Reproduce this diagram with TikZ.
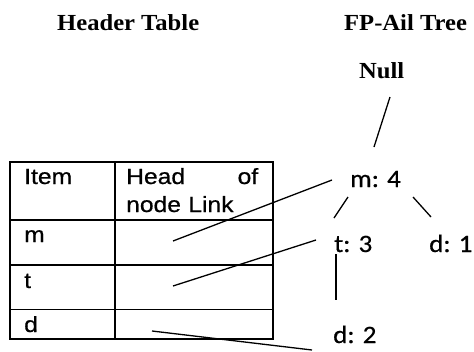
\documentclass[tikz,border=0pt]{standalone}
\usepackage{fontspec}
\setmainfont{Liberation Serif}
\newfontfamily\arialf[FakeStretch=1.12,FakeBold=0.6]{Liberation Sans}
\newfontfamily\timesf[FakeStretch=1.07]{Liberation Serif}
\newfontfamily\calf[FakeStretch=1.08,FakeBold=0.6]{Carlito}
\begin{document}
\begin{tikzpicture}[x=1pt,y=-1pt,
  title/.style={font=\timesf\bfseries\fontsize{23}{24}\selectfont, inner sep=0, anchor=base west},
  cell/.style={font=\arialf\fontsize{22}{28}\selectfont, inner sep=0, anchor=base west},
  tnode/.style={font=\calf\fontsize{25}{26}\selectfont, inner sep=0, anchor=base west},
  grid/.style={line width=1.6pt},
  thin grid/.style={line width=1pt},
  link/.style={line width=1.3pt}]
\useasboundingbox (0,0) rectangle (474,351);
% titles
\node[title] (ht) at (57,30) {Header Table};
\node[title] (fp) at (344,30) {FP-Ail Tree};
\node[title] (null) at (359,78) {Null};
% table
\draw[grid] (10,162) rectangle (273,339);
\draw[grid] (115,162) -- (115,339);
\draw[grid] (10,220) -- (273,220);
\draw[grid] (10,265) -- (273,265);
\draw[thin grid] (10,309) -- (273,309);
\node[cell] (item) at (24,184) {Item};
\node[cell, text width=132pt, align=left, anchor=base west] (head) at (126,184) {Head\hfill of\\node Link};
\node[cell] (cm) at (24,242) {m};
\node[cell] (ct) at (24,288) {t};
\node[cell] (cd) at (24,332) {d};
% tree
\node[tnode] (m4) at (350,187) {m: 4};
\node[tnode] (t3) at (334,252) {t: 3};
\node[tnode] (d1) at (429,252) {d: 1};
\node[tnode] (d2) at (333,343) {d: 2};
% connector end points
\coordinate (nullB) at (390,97);
\coordinate (m4T) at (374,147);
\coordinate (m4BL) at (348,197);
\coordinate (t3T) at (334,218);
\coordinate (m4BR) at (413,197);
\coordinate (d1T) at (431,217);
\coordinate (t3B) at (336,254);
\coordinate (d2T) at (336,300);
\coordinate (lm) at (173,241);
\coordinate (m4L) at (332,180);
\coordinate (lt) at (173,286);
\coordinate (t3L) at (316,240);
\coordinate (ld) at (152,331);
\coordinate (dEnd) at (312,350);
\draw[link] (nullB) -- (m4T);
\draw[link] (m4BL) -- (t3T);
\draw[link] (m4BR) -- (d1T);
\draw[link] (t3B) -- (d2T);
\draw[link] (lm) -- (m4L);
\draw[link] (lt) -- (t3L);
\draw[link] (ld) -- (dEnd);
\end{tikzpicture}
\end{document}
